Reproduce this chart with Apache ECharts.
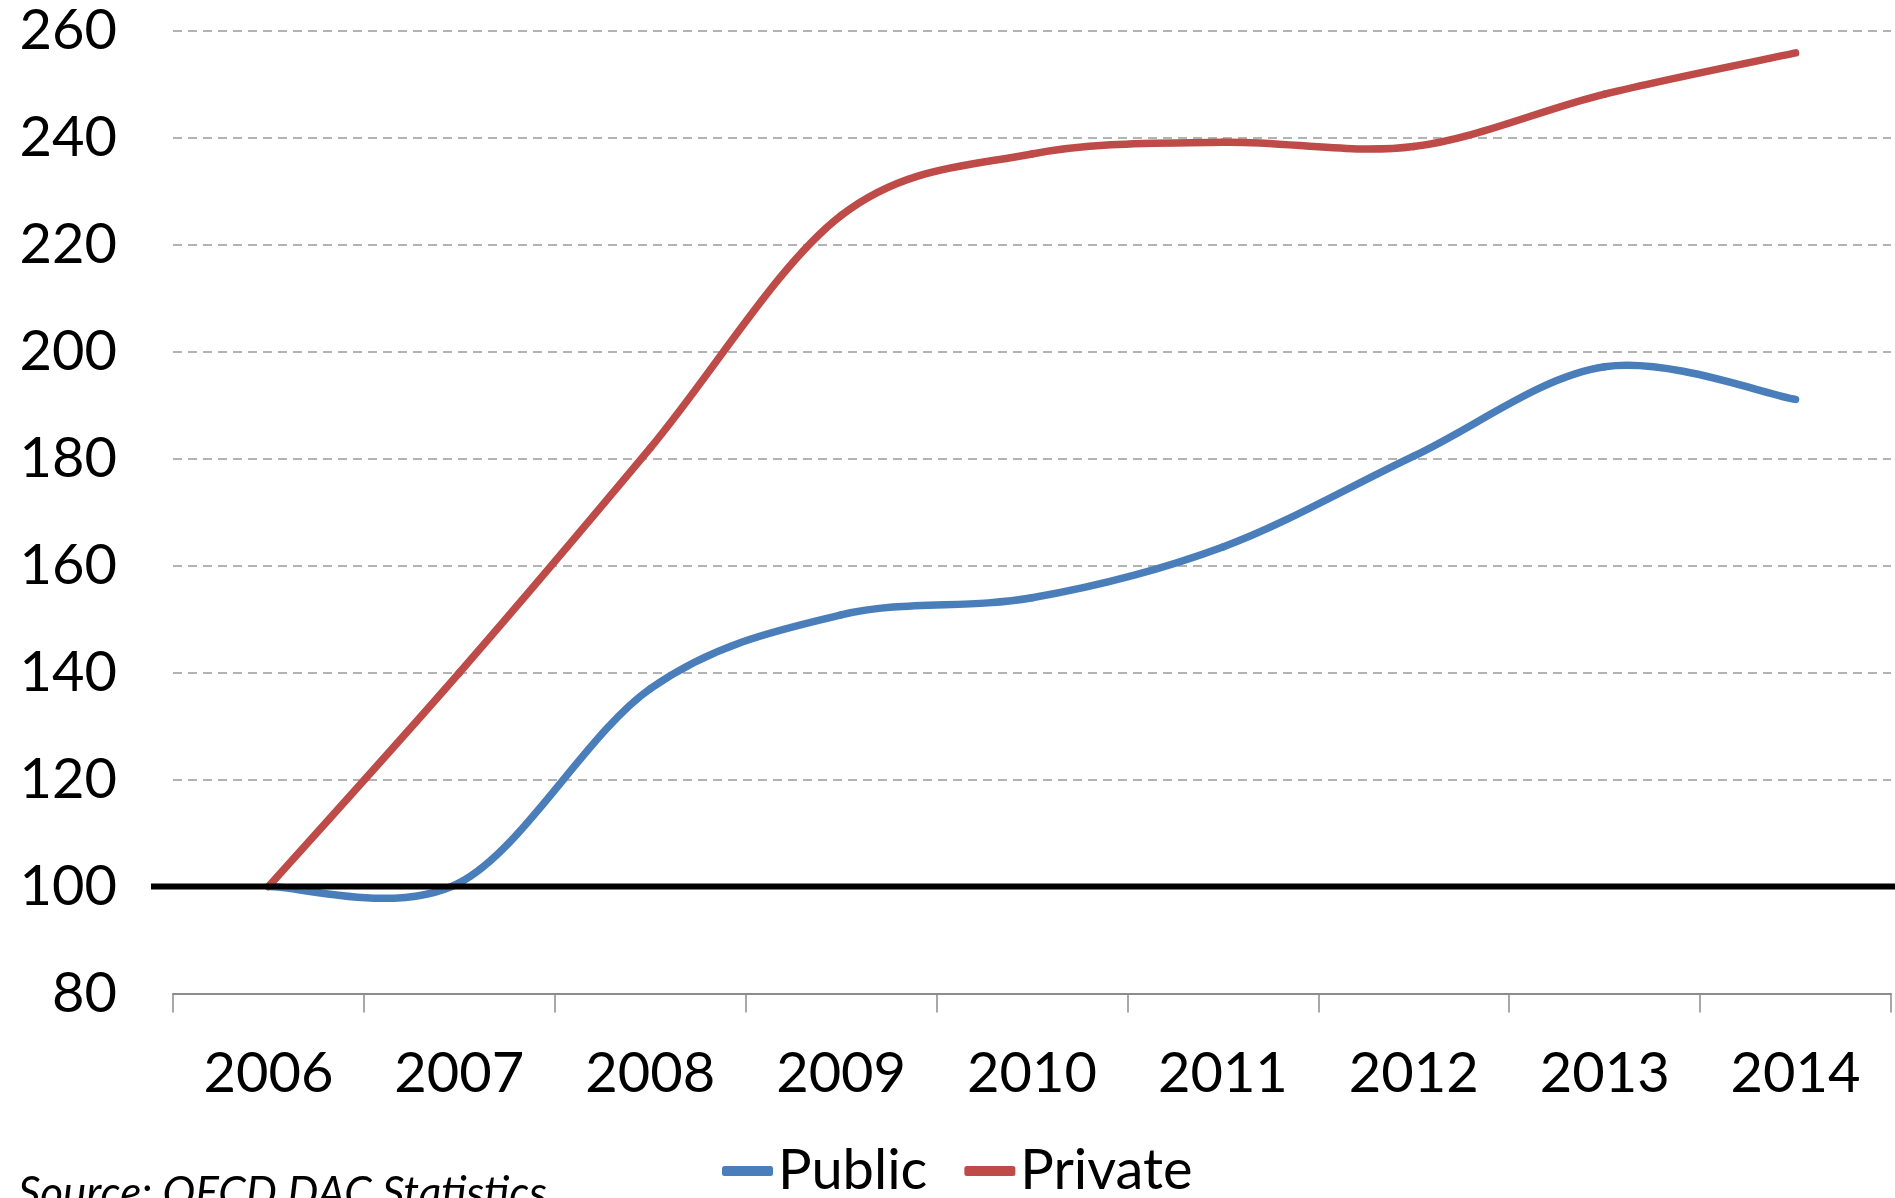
<!DOCTYPE html>
<html>
<head>
<meta charset="utf-8">
<script src="https://cdn.jsdelivr.net/npm/echarts@6/dist/echarts.min.js"></script>
<style>
html,body{margin:0;padding:0;background:#fff;}
#chart{width:1895px;height:1198px;}
</style>
</head>
<body>
<div id="chart"></div>
<script>
const years = ['2006','2007','2008','2009','2010','2011','2012','2013','2014'];
const publicValues = [100, 100.7, 137, 150.8, 154, 163.5, 180.5, 197.2, 191.1];
const privateValues = [100, 140, 182, 225.5, 237, 239.2, 238.4, 248.2, 255.9];
const baselineValues = [100, 100];
const yTicks = {min: 80, max: 260, step: 20};
const sourceText = 'Source: OECD DAC Statistics';

const FONT = 'Lato';
const BLUE = '#4a7ebb';
const RED = '#be4b48';

// Excel-like smoothed line (Catmull-Rom -> Bezier), positions from the chart's own scales via api.coord
function smoothRenderer(values, color) {
  return function (params, api) {
    if (params.dataIndex !== 0) return null;
    const pts = values.map((v, i) => api.coord([i, v]));
    const children = [];
    const n = pts.length;
    for (let i = 0; i < n - 1; i++) {
      const p0 = pts[i - 1] || pts[i];
      const p1 = pts[i];
      const p2 = pts[i + 1];
      const p3 = pts[i + 2] || pts[i + 1];
      children.push({
        type: 'bezierCurve',
        shape: {
          x1: p1[0], y1: p1[1],
          cpx1: p1[0] + (p2[0] - p0[0]) / 6, cpy1: p1[1] + (p2[1] - p0[1]) / 6,
          cpx2: p2[0] - (p3[0] - p1[0]) / 6, cpy2: p2[1] - (p3[1] - p1[1]) / 6,
          x2: p2[0], y2: p2[1]
        },
        style: {fill: null, stroke: color, lineWidth: 7.5, lineCap: 'round', lineJoin: 'round'}
      });
    }
    return {type: 'group', children: children};
  };
}

const chart = echarts.init(document.getElementById('chart'), null, {renderer: 'canvas'});
chart.setOption({
  backgroundColor: '#ffffff',
  animation: false,
  title: {
    text: sourceText,
    left: 18,
    top: 1172,
    padding: 0,
    textStyle: {fontFamily: FONT, fontSize: 44, fontStyle: 'italic', fontWeight: 'normal', color: '#000'}
  },
  legend: {
    data: ['Public', 'Private'],
    left: 722,
    top: 1143,
    padding: 0,
    itemGap: 37,
    itemWidth: 51,
    itemHeight: 10,
    icon: 'roundRect',
    textStyle: {fontFamily: FONT, fontSize: 56, color: '#000'}
  },
  grid: [
    {left: 173, right: 4, top: 31, bottom: 204.5, containLabel: false},
    {left: 151, right: 0, top: 31, bottom: 204.5, containLabel: false}
  ],
  xAxis: [
    {
      type: 'category', gridIndex: 0, data: years, boundaryGap: true,
      axisLine: {show: true, lineStyle: {color: '#8c8c8c', width: 2}},
      axisTick: {show: true, length: 19, interval: 0, lineStyle: {color: '#8c8c8c', width: 1.5}},
      axisLabel: {fontFamily: FONT, fontSize: 56, color: '#000', margin: 52, interval: 0}
    },
    {
      type: 'category', gridIndex: 1, data: ['a', 'b'], boundaryGap: false, show: false
    }
  ],
  yAxis: [
    {
      type: 'value', gridIndex: 0, min: yTicks.min, max: yTicks.max, interval: yTicks.step,
      axisLine: {show: false}, axisTick: {show: false},
      axisLabel: {fontFamily: FONT, fontSize: 56, color: '#000', margin: 56},
      splitLine: {show: true, lineStyle: {color: '#9a9a9a', width: 1.5, type: [9, 6]}}
    },
    {
      type: 'value', gridIndex: 1, min: yTicks.min, max: yTicks.max, show: false,
      splitLine: {show: false}
    }
  ],
  series: [
    {
      name: 'Public', type: 'custom', xAxisIndex: 0, yAxisIndex: 0,
      data: publicValues.map((v, i) => [i, v]),
      encode: {x: 0, y: 1},
      renderItem: smoothRenderer(publicValues, BLUE),
      color: BLUE, itemStyle: {color: BLUE}, z: 3, clip: false
    },
    {
      name: 'Private', type: 'custom', xAxisIndex: 0, yAxisIndex: 0,
      data: privateValues.map((v, i) => [i, v]),
      encode: {x: 0, y: 1},
      renderItem: smoothRenderer(privateValues, RED),
      color: RED, itemStyle: {color: RED}, z: 3, clip: false
    },
    {
      name: 'baseline', type: 'line', xAxisIndex: 1, yAxisIndex: 1, data: baselineValues,
      symbol: 'none', z: 4, silent: true,
      lineStyle: {width: 6, color: '#000'}
    }
  ]
});
</script>
</body>
</html>
